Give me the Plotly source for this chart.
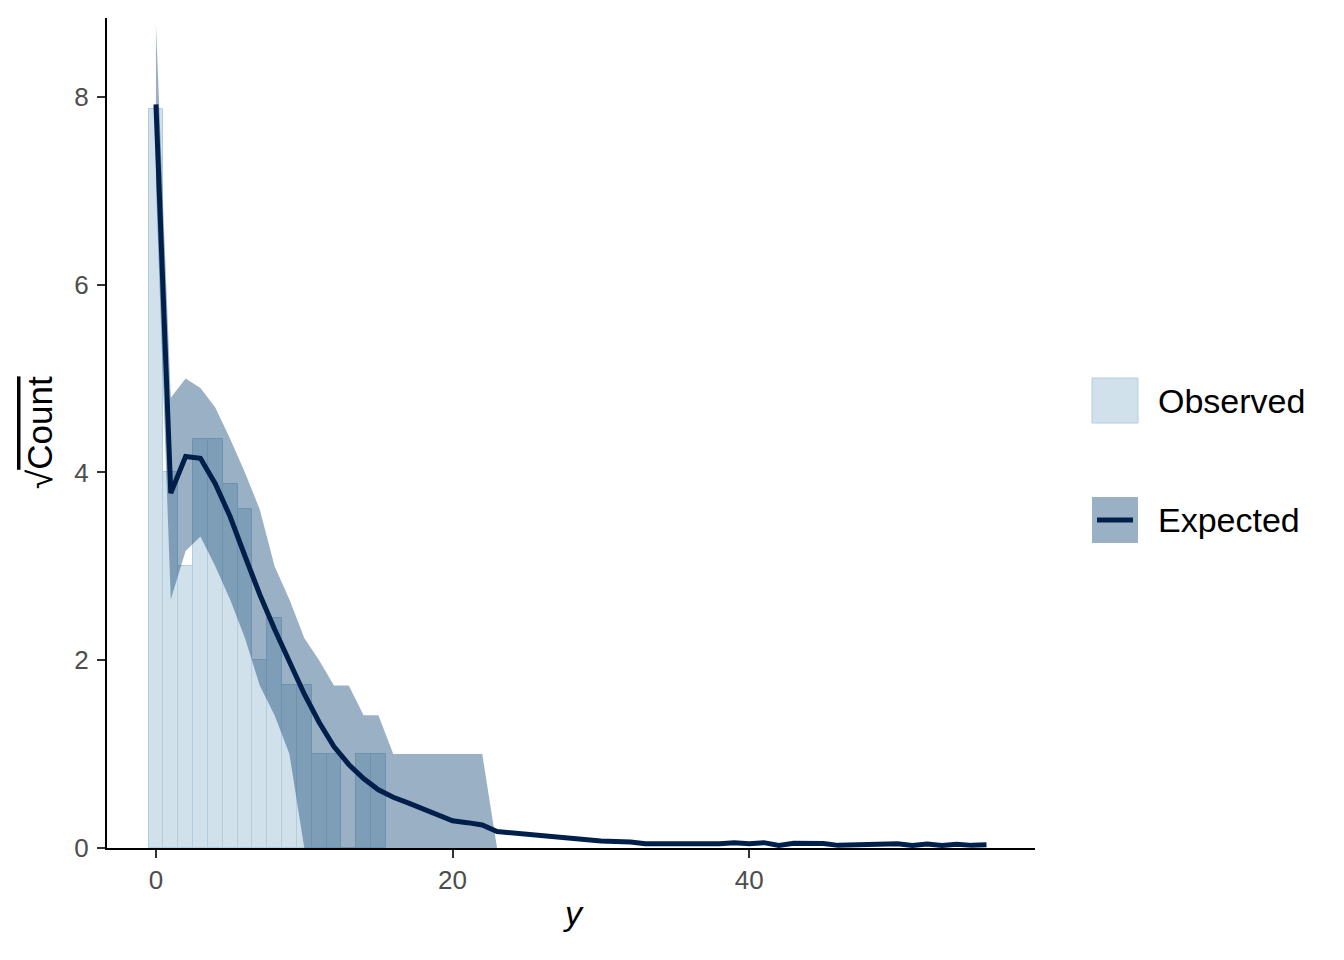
import numpy as np
import plotly.graph_objects as go

# =========================
# Data
# =========================

# observed counts for y = 0..15
obs_x = list(range(16))
obs_counts = [62, 16, 9, 19, 19, 15, 13, 4, 6, 3, 3, 1, 1, 0, 1, 1]

# predictive interval (counts) for y = 0..56
rib_x = list(range(57))
lower_counts = [50, 7, 10, 11, 9, 7, 5, 3, 2, 1] + [0] * 47
upper_counts = [77, 23, 25, 24, 22, 19, 16, 13, 9, 7, 5, 4, 3, 3, 2, 2,
                1, 1, 1, 1, 1, 1, 1] + [0] * 34

# expected counts, already on the sqrt scale
expected_root = [
    7.92, 3.78, 4.17, 4.15, 3.88, 3.53, 3.11, 2.70, 2.33, 1.98,
    1.64, 1.34, 1.08, 0.89, 0.74, 0.62, 0.54, 0.48, 0.42, 0.35,
    0.29, 0.27, 0.245, 0.175, 0.16, 0.14, 0.125, 0.11, 0.093, 0.082,
    0.075, 0.07, 0.065, 0.045, 0.045, 0.042, 0.055, 0.05, 0.045, 0.057,
    0.045, 0.057, 0.028, 0.05, 0.05, 0.048, 0.028, 0.03, 0.035, 0.045,
    0.045, 0.028, 0.042, 0.028, 0.04, 0.028, 0.035,
]

x_ticks = [0, 20, 40]
y_ticks = [0, 2, 4, 6, 8]

# =========================
# Colours / fonts
# =========================

LIGHT = "#d1e1ec"
LIGHT_EDGE = "#b3cde0"
RIBBON = "rgba(3,57,108,0.4)"
DARK = "#011f4b"
FONT = "Liberation Sans, Arial, sans-serif"

fig = go.Figure()

# =========================
# Observed bars
# =========================

fig.add_trace(go.Bar(
    x=obs_x,
    y=np.sqrt(obs_counts),
    width=1,
    marker=dict(color=LIGHT, line=dict(color=LIGHT_EDGE, width=1)),
    showlegend=False,
))

# =========================
# Expected interval + line
# =========================

fig.add_trace(go.Scatter(
    x=rib_x, y=np.sqrt(lower_counts),
    mode="lines", line=dict(width=0, color=RIBBON),
    showlegend=False, hoverinfo="skip",
))
fig.add_trace(go.Scatter(
    x=rib_x, y=np.sqrt(upper_counts),
    mode="lines", line=dict(width=0, color=RIBBON),
    fill="tonexty", fillcolor=RIBBON,
    showlegend=False, hoverinfo="skip",
))
fig.add_trace(go.Scatter(
    x=rib_x, y=expected_root,
    mode="lines", line=dict(color=DARK, width=5),
    showlegend=False,
))

# =========================
# Layout
# =========================

# page body adds an 8px margin, so work in shifted pixel coords
OFF = 8
W, H = 1344 - OFF, 960 - OFF
L, R, T, B = 107 - OFF, 1035 - OFF, 18 - OFF, 848 - OFF


def px_x(px):
    return (px - OFF - L) / (R - L)


def px_y(py):
    return (B - (py - OFF)) / (B - T)


axis_common = dict(
    showgrid=False, zeroline=False,
    showline=True, linecolor="black", linewidth=2,
    ticks="outside", ticklen=8, tickwidth=2, tickcolor="#333333",
    tickfont=dict(family=FONT, size=26, color="#4d4d4d"),
)

fig.update_layout(
    width=W, height=H,
    margin=dict(l=L, r=W - R, t=T, b=H - B),
    plot_bgcolor="white", paper_bgcolor="white",
    bargap=0, showlegend=False,
    font=dict(family=FONT),
    xaxis=dict(range=[-3.3, 59.27], tickvals=x_ticks, **axis_common),
    yaxis=dict(range=[0, 8.84], tickvals=y_ticks, ticklabelstandoff=3,
               **axis_common),
)

# axis titles
fig.add_annotation(
    text="<i>y</i>", xref="paper", yref="paper",
    x=px_x(573), y=px_y(913), xanchor="center", yanchor="middle",
    showarrow=False, font=dict(family=FONT, size=34, color="black"),
)
fig.add_annotation(
    text="√<span style='text-decoration:overline'>Count</span>",
    xref="paper", yref="paper",
    x=px_x(39), y=px_y(433), xanchor="center", yanchor="middle",
    textangle=-90, showarrow=False,
    font=dict(family=FONT, size=35, color="black"),
)

# =========================
# Legend (drawn by hand)
# =========================

fig.add_shape(
    type="rect", xref="paper", yref="paper",
    x0=px_x(1092), x1=px_x(1138), y0=px_y(423), y1=px_y(378),
    fillcolor=LIGHT, line=dict(color=LIGHT_EDGE, width=1),
)
fig.add_shape(
    type="rect", xref="paper", yref="paper",
    x0=px_x(1092), x1=px_x(1138), y0=px_y(543), y1=px_y(497),
    fillcolor=RIBBON, line=dict(width=0),
)
fig.add_shape(
    type="line", xref="paper", yref="paper",
    x0=px_x(1097), x1=px_x(1133), y0=px_y(520), y1=px_y(520),
    line=dict(color=DARK, width=5),
)
for label, py in [("Observed", 401), ("Expected", 520)]:
    fig.add_annotation(
        text=label, xref="paper", yref="paper",
        x=px_x(1156), y=px_y(py), xanchor="left", yanchor="middle",
        showarrow=False, font=dict(family=FONT, size=34, color="black"),
    )

fig.write_html("out.html")
